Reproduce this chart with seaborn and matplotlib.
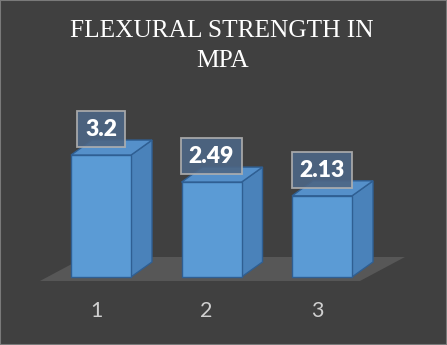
import matplotlib
matplotlib.use("Agg")
import matplotlib.pyplot as plt
import seaborn as sns
import pandas as pd
from matplotlib.patches import Polygon

categories = ["1", "2", "3"]
values = [3.2, 2.49, 2.13]
title = "FLEXURAL STRENGTH IN\nMPA"

BG = "#404040"
FRONT = "#5b9bd5"
SIDE = "#4a82ba"
TOP = "#5590ca"
EDGE = "#2f5f93"
FLOOR = "#575757"

sns.set_theme(style="white")
plt.rcParams["font.family"] = ["Lato", "DejaVu Sans"]

df = pd.DataFrame({"cat": categories, "val": values})

fig = plt.figure(figsize=(4.47, 3.45), dpi=100, facecolor=BG)
ax = fig.add_axes([0, 0, 1, 1])
ax.set_facecolor(BG)

sns.barplot(data=df, x="cat", y="val", ax=ax, color=FRONT, width=0.543,
            saturation=1, edgecolor=EDGE, linewidth=1.0, zorder=3)

ax.set_xlim(-0.914, 3.131)
ax.set_ylim(-1.785, 7.270)
ax.axis("off")

dx, dy = 0.190, 0.394
patches = list(ax.patches)

# floor
x_left = patches[0].get_x()
x_right = patches[-1].get_x() + patches[-1].get_width()
fy0, fy1 = -0.105, 0.525
fdx = 0.407
floor = Polygon([(x_left - 0.281, fy0), (x_right + 0.072, fy0),
                 (x_right + 0.072 + fdx, fy1), (x_left - 0.281 + fdx, fy1)],
                closed=True, facecolor=FLOOR, edgecolor="none", zorder=1)
ax.add_patch(floor)

for p, v, lab in zip(patches, values, categories):
    x0 = p.get_x()
    x1 = x0 + p.get_width()
    h = p.get_height()
    side = Polygon([(x1, 0), (x1 + dx, dy), (x1 + dx, h + dy), (x1, h)],
                   closed=True, facecolor=SIDE, edgecolor=EDGE, linewidth=1.0, zorder=2.5)
    top = Polygon([(x0, h), (x1, h), (x1 + dx, h + dy), (x0 + dx, h + dy)],
                  closed=True, facecolor=TOP, edgecolor=EDGE, linewidth=1.0, zorder=2.5)
    ax.add_patch(side)
    ax.add_patch(top)
    cx = x0 + p.get_width() / 2
    ax.annotate(f"{v:g}", xy=(cx, h), xytext=(0, 18.5), textcoords="offset points",
                ha="center", va="center", color="white", fontsize=16.5, fontweight="heavy",
                zorder=10,
                bbox=dict(boxstyle="square,pad=0.33", facecolor="#4d6685", alpha=0.9,
                          edgecolor="#b0b0b0", linewidth=1.3))
    ax.annotate(lab, xy=(cx, -0.9), xytext=(-3.5, 0), textcoords="offset points",
                ha="center", va="center", color="#d0d0d0", fontsize=15.5)

fig.text(0.497, 1 - 20 / 345, title, ha="center", va="top", color="white",
         fontsize=18.3, family=["Liberation Serif", "DejaVu Serif"], linespacing=1.45)

fig.patches.append(plt.Rectangle((0, 0), 1, 1, transform=fig.transFigure,
                                 fill=False, edgecolor="#7a7a7a", linewidth=1.5))

fig.savefig("out.png", dpi=100, facecolor=BG)
